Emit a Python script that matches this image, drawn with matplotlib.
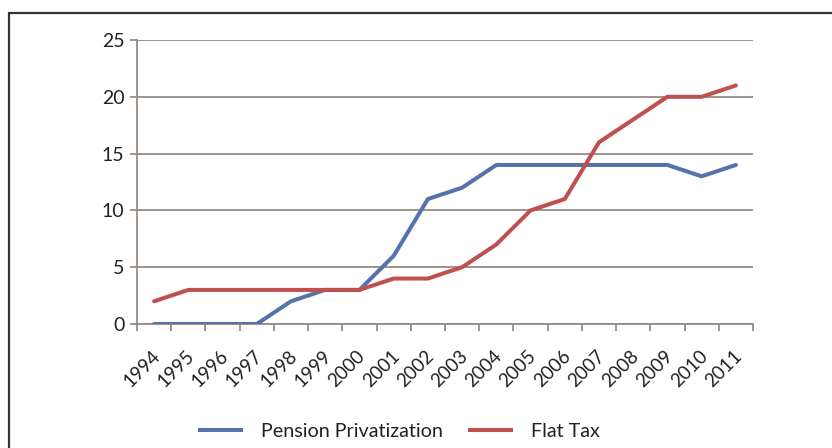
import matplotlib.pyplot as plt
import matplotlib.transforms as mtransforms
from matplotlib.lines import Line2D
from matplotlib.patches import Rectangle

years = [str(y) for y in range(1994, 2012)]
pension = [0, 0, 0, 0, 2, 3, 3, 6, 11, 12, 14, 14, 14, 14, 14, 14, 13, 14]
flat_tax = [2, 3, 3, 3, 3, 3, 3, 4, 4, 5, 7, 10, 11, 16, 18, 20, 20, 21]

plt.rcParams['font.family'] = ['Lato', 'DejaVu Sans']
GRID = '#948b84'
TEXT = '#222222'
BLUE = '#5672ab'
RED = '#c0504d'
LW = 2.9

fig = plt.figure(figsize=(8.32, 4.48), dpi=100)
ax = fig.add_axes([137/832, 1 - 324/448, 616/832, 284/448])

x = list(range(len(years)))
ax.plot(x, pension, color=BLUE, lw=LW, solid_capstyle='round', zorder=3)
ax.plot(x, flat_tax, color=RED, lw=LW, solid_capstyle='round', zorder=3)

ax.set_xlim(-0.5, len(years) - 0.5)
ax.set_ylim(0, 25)
ax.set_yticks([0, 5, 10, 15, 20, 25])
ax.yaxis.grid(True, color=GRID, lw=1.3)
ax.set_axisbelow(True)

ax.set_xticks(x)
ax.set_xticklabels(years, rotation=45, ha='right', rotation_mode='anchor', fontsize=13.5, color=TEXT)
ax.set_xticks([i - 0.5 for i in range(len(years) + 1)], minor=True)
ax.tick_params(axis='x', which='major', length=0, pad=17)
ax.tick_params(axis='x', which='minor', length=5, width=1.3, color=GRID, direction='out')
ax.tick_params(axis='y', length=5, width=1.3, color=GRID, labelsize=14, labelcolor=TEXT, pad=4)

# nudge year labels slightly left so the ink ends over each category
shift = mtransforms.ScaledTranslation(-3/100, 0, fig.dpi_scale_trans)
for lbl in ax.get_xticklabels():
    lbl.set_transform(lbl.get_transform() + shift)

for side in ('top', 'right'):
    ax.spines[side].set_visible(False)
for side in ('left', 'bottom'):
    ax.spines[side].set_color(GRID)
    ax.spines[side].set_linewidth(1.3)

# legend below the plot
handles = [Line2D([], [], color=BLUE, lw=LW),
           Line2D([], [], color=RED, lw=LW)]
fig.legend(handles, ['Pension Privatization', 'Flat Tax'], loc='center',
           bbox_to_anchor=(400/832, 1 - 431/448), ncol=2, frameon=False,
           fontsize=14.2, handlelength=2.08, handletextpad=1.0, columnspacing=1.37,
           labelcolor=TEXT)

# outer frame
fig.patches.append(Rectangle((9/832, -0.1), 1.0, 1 - 13/448 + 0.1,
                             transform=fig.transFigure, fill=False,
                             edgecolor='#333333', lw=1.6))

fig.savefig('out.png', dpi=100)
